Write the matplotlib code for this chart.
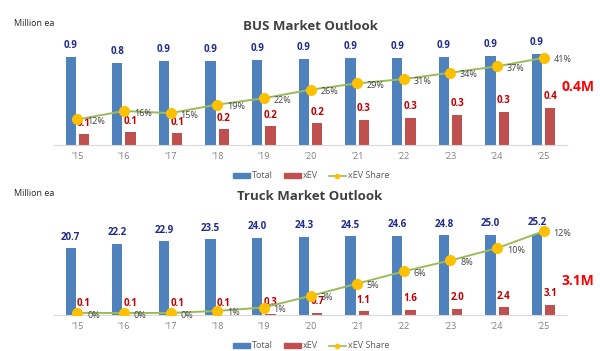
import matplotlib.pyplot as plt
from matplotlib.patches import Patch
from matplotlib.lines import Line2D
import numpy as np

plt.rcParams['font.family'] = ['Open Sans', 'DejaVu Sans']

years = ["'15", "'16", "'17", "'18", "'19", "'20", "'21", "'22", "'23", "'24", "'25"]

# BUS (million ea)
bus_total = [0.90, 0.84, 0.86, 0.86, 0.87, 0.88, 0.89, 0.89, 0.90, 0.91, 0.93]
bus_xev = [0.11, 0.13, 0.12, 0.16, 0.19, 0.22, 0.26, 0.28, 0.31, 0.34, 0.38]
bus_share = [12, 16, 15, 19, 22, 26, 29, 31, 34, 37, 41]

# Truck (million ea)
truck_total = [20.7, 22.2, 22.9, 23.5, 24.0, 24.3, 24.5, 24.6, 24.8, 25.0, 25.2]
truck_xev = [0.1, 0.1, 0.1, 0.1, 0.3, 0.7, 1.1, 1.6, 2.0, 2.4, 3.1]
truck_share = [0.3, 0.3, 0.3, 0.6, 1.1, 2.8, 4.6, 6.4, 8.0, 9.8, 12.3]

BLUE = '#4f81bd'
RED = '#c0504d'
GREEN = '#9bbb59'
GOLD = '#ffc000'
NAVY = '#1f2a8a'
DARKRED = '#c00000'
GREY = '#404040'

W, H = 600, 351
fig = plt.figure(figsize=(6, 3.51), dpi=100)


def rect(left, top, right, bottom):
    return [left / W, (H - bottom) / H, (right - left) / W, (bottom - top) / H]


def panel(box, total, xev, share, ymax, smax, title, title_y, big, big_y, leg_y):
    ax = fig.add_axes(rect(*box))
    x = np.arange(len(years))
    w = 0.22
    b1 = ax.bar(x - 0.142, total, w, color=BLUE)
    b2 = ax.bar(x + 0.142, xev, w, color=RED)
    ax.set_xlim(-0.5, len(years) - 0.5)
    ax.set_ylim(0, ymax)
    for s in ['top', 'left', 'right']:
        ax.spines[s].set_visible(False)
    ax.spines['bottom'].set_color('#d9d9d9')
    ax.set_yticks([])
    ax.set_xticks(x)
    ax.set_xticklabels(years, fontsize=6.5, color='#7f7f7f')
    ax.tick_params(axis='x', length=0, pad=5)
    for r, v in zip(b1, total):
        ax.annotate(f'{v:.1f}', (r.get_x() + r.get_width() / 2, v), xytext=(0, 4),
                    textcoords='offset points', ha='center', va='bottom',
                    fontsize=7, fontweight='bold', color=NAVY)
    for r, v in zip(b2, xev):
        ax.annotate(f'{v:.1f}', (r.get_x() + r.get_width() / 2, v), xytext=(0, 4),
                    textcoords='offset points', ha='center', va='bottom',
                    fontsize=7, fontweight='bold', color=DARKRED)

    ax2 = ax.twinx()
    ax2.plot(x, share, color=GREEN, lw=1.4, marker='o', ms=7,
             mfc=GOLD, mec=GOLD, zorder=3)
    ax2.set_ylim(0, smax)
    ax2.axis('off')
    for xi, v in zip(x, share):
        ax2.annotate(f'{v:.0f}%', (xi, v), xytext=(7, -1.5), textcoords='offset points',
                     ha='left', va='center', fontsize=6.5, color=GREY)

    fig.text(14 / W, 1 - title_y / H, 'Million ea', fontsize=6.5, color='#262626',
             ha='left', va='center')
    fig.text(310 / W, 1 - title_y / H - 3 / H, title, fontsize=9.5, fontweight='bold',
             color='#404040', ha='center', va='center')
    fig.text(578 / W, 1 - big_y / H, big, fontsize=10, fontweight='bold',
             color='#ff0000', ha='center', va='center')

    handles = [Patch(color=BLUE), Patch(color=RED),
               Line2D([], [], color=GREEN, marker='o', ms=3, mfc=GOLD, mec=GOLD, lw=1.2)]
    fig.legend(handles, ['Total', 'xEV', 'xEV Share'], loc='center',
               bbox_to_anchor=(311 / W, 1 - leg_y / H), ncol=3, frameon=False,
               fontsize=6.5, handlelength=1.9, handleheight=0.45, columnspacing=1.2,
               handletextpad=0.2, labelcolor='#595959')


panel((54, 47, 567, 145), bus_total, bus_xev, bus_share, 1.0, 46.1,
      'BUS Market Outlook', 23, '0.4M', 87, 176)
panel((54, 225, 567, 315), truck_total, truck_xev, truck_share, 28.0, 13.2,
      'Truck Market Outlook', 194, '3.1M', 281, 346)

fig.savefig('out.png', dpi=100)
